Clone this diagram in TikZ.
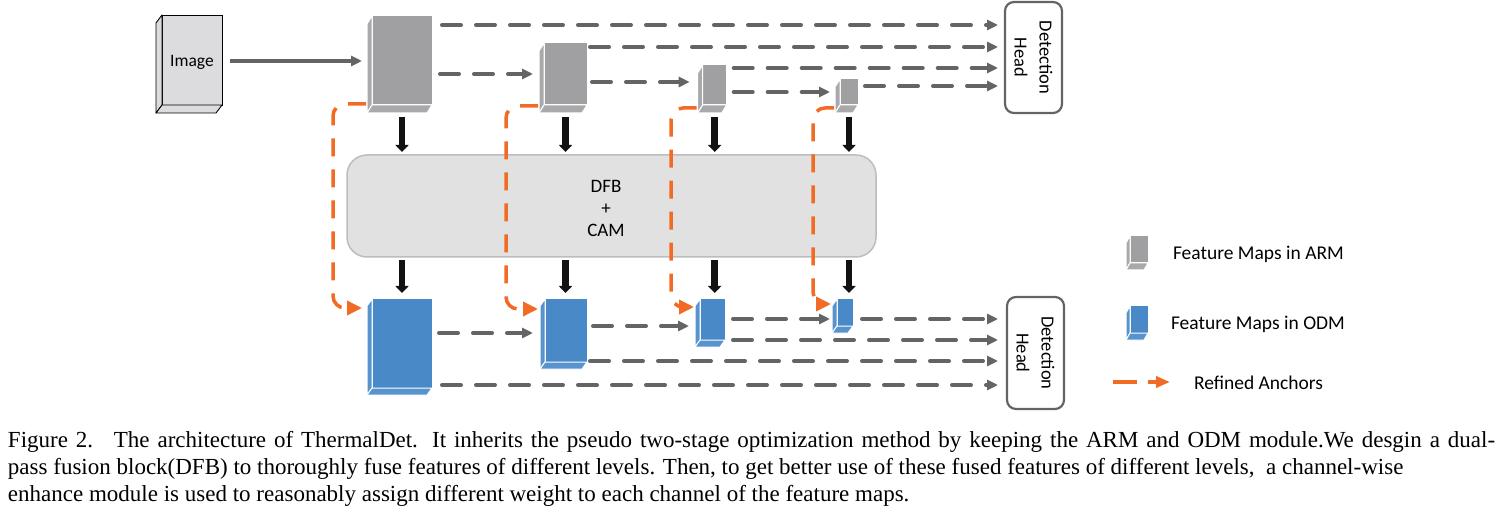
\documentclass[tikz,border=0pt]{standalone}
\usepackage{fontspec}
\setmainfont{Carlito}
\newfontfamily\capfont{Liberation Serif}
\usetikzlibrary{arrows.meta,calc}
\definecolor{armgray}{HTML}{A0A0A2}
\definecolor{armside}{HTML}{A9A9AB}
\definecolor{odmblue}{HTML}{4A89C8}
\definecolor{odmside}{HTML}{5893CE}
\definecolor{imgface}{HTML}{DCDCDE}
\definecolor{orangec}{HTML}{F26B24}
\definecolor{arrowgray}{HTML}{646464}
\definecolor{dfbfill}{HTML}{E1E1E1}
\definecolor{dfbedge}{HTML}{BDBDBD}
\newcommand{\mkcube}[4]{%
  \path[#2] (#1.north west) -- ++(#3,#4) -- ($(#1.south west)+(#3,#4)$) -- (#1.south west) -- cycle;
  \path[#2] (#1.south west) -- ($(#1.south west)+(#3,#4)$) -- ($(#1.south east)+(#3,#4)$) -- (#1.south east) -- cycle;
}
\begin{document}
\begin{tikzpicture}[x=1pt,y=-1pt,
  every node/.style={inner sep=0pt, outer sep=0pt},
  txt/.style={font=\fontsize{19}{22}\selectfont},
  imgf/.style={fill=imgface, draw=black, line width=0.9pt},
  imgs/.style={fill=imgface, draw=black, line width=0.9pt, line join=round},
  armf/.style={fill=armgray, draw=white, line width=1pt},
  arms/.style={fill=armside, draw=white, line width=1pt, line join=round},
  odmf/.style={fill=odmblue, draw=white, line width=1pt},
  odms/.style={fill=odmside, draw=white, line width=1pt, line join=round},
  dfbf/.style={fill=dfbfill, draw=dfbedge, line width=1.5pt, rounded corners=20pt},
  headf/.style={fill=white, draw=arrowgray, line width=2.2pt, rounded corners=9pt},
  headt/.style={rotate=-90, align=center, font=\fontsize{18.5}{25}\selectfont},
  garrow/.style={draw=arrowgray, line width=4pt, line cap=round, dash pattern=on 19pt off 15pt, -{Triangle[width=10pt,length=11pt]}},
  gsolid/.style={draw=arrowgray, line width=4pt, -{Triangle[width=10pt,length=11pt]}},
  barrow/.style={draw=black!93, line width=6.5pt, -{Triangle[width=13pt,length=7pt]}},
  oarrow/.style={draw=orangec, line width=3.5pt, dash pattern=on 18pt off 13pt, rounded corners=12pt, -{Triangle[width=14pt,length=15pt]}},
  legtxt/.style={anchor=west, font=\fontsize{19.5}{22}\selectfont},
  captxt/.style={anchor=base west, font=\capfont\fontsize{23}{27}\selectfont},
]
\useasboundingbox (0,0) rectangle (1503,510);

% y levels
\foreach \yy in {25,47,61,68,74,82,86,92,319,326,333,340,361,385} {\coordinate (y\yy) at (0,\yy);}

% Image
\node[imgf, minimum width=60pt, minimum height=90pt] (img) at (192,60) {};
\mkcube{img}{imgs}{-6}{8}
\node[font=\fontsize{17.5}{20}\selectfont] (imgt) at (192,62) {Image};

% DFB + CAM
\node[dfbf, minimum width=529pt, minimum height=102pt] (dfb) at (611.5,206) {};
\node[txt, align=center] (dfbt) at (606,208) {DFB\\+\\CAM};

% ARM feature maps
\node[armf, minimum width=60pt, minimum height=89pt] (a1) at (402,60.5) {};
\node[armf, minimum width=43pt, minimum height=62pt] (a2) at (565.5,74) {};
\node[armf, minimum width=24pt, minimum height=40pt] (a3) at (714.7,85) {};
\node[armf, minimum width=18pt, minimum height=26pt] (a4) at (849,92) {};
\foreach \n in {a1,a2,a3,a4} {\mkcube{\n}{arms}{-5}{8}}

% ODM feature maps
\node[odmf, minimum width=60pt, minimum height=89pt] (b1) at (402,343.5) {};
\node[odmf, minimum width=42pt, minimum height=63pt] (b2) at (566,330.5) {};
\node[odmf, minimum width=25pt, minimum height=41pt] (b3) at (712.5,319.5) {};
\node[odmf, minimum width=16pt, minimum height=27pt] (b4) at (845,312.5) {};
\foreach \n in {b1,b2,b3,b4} {\mkcube{\n}{odms}{-5}{7}}

% Detection heads
\node[headf, minimum width=57pt, minimum height=111pt] (h1) at (1033.5,57.5) {};
\node[headt] (h1t) at (h1.center) {Detection\\Head};
\node[headf, minimum width=57pt, minimum height=112pt] (h2) at (1035.5,353) {};
\node[headt] (h2t) at (h2.center) {Detection\\Head};

% top connectors
\draw[gsolid] ($(img.east |- y61)+(8,0)$) -- ($(a1.west |- y61)+(-10,0)$);
\draw[garrow] ($(a1.east |- y25)+(10,0)$) -- ($(h1.west |- y25)+(-7,0)$);
\draw[garrow] ($(a1.east |- y74)+(8,0)$) -- ($(a2.west |- y74)+(-11,0)$);
\draw[garrow] ($(a2.east |- y47)+(3,0)$) -- ($(h1.west |- y47)+(-7,0)$);
\draw[garrow] ($(a2.east |- y82)+(5,0)$) -- ($(a3.west |- y82)+(-13,0)$);
\draw[garrow] ($(a3.east |- y68)+(7,0)$) -- ($(h1.west |- y68)+(-7,0)$);
\draw[garrow] ($(a3.east |- y92)+(7,0)$) -- ($(a4.west |- y92)+(-10,0)$);
\draw[garrow] ($(a4.east |- y86)+(7,0)$) -- ($(h1.west |- y86)+(-7,0)$);

% bottom connectors
\draw[garrow] ($(b1.east |- y333)+(7,0)$) -- ($(b2.west |- y333)+(-12,0)$);
\draw[garrow] ($(b1.east |- y385)+(10,0)$) -- ($(h2.west |- y385)+(-9,0)$);
\draw[garrow] ($(b2.east |- y326)+(6,0)$) -- ($(b3.west |- y326)+(-11,0)$);
\draw[garrow] ($(b2.east |- y361)+(3,0)$) -- ($(h2.west |- y361)+(-9,0)$);
\draw[garrow] ($(b3.east |- y319)+(8,0)$) -- ($(b4.west |- y319)+(-7,0)$);
\draw[garrow] ($(b3.east |- y340)+(8,0)$) -- ($(h2.west |- y340)+(-9,0)$);
\draw[garrow] ($(b4.east |- y319)+(9,0)$) -- ($(h2.west |- y319)+(-9,0)$);

% black arrows into and out of DFB
\foreach \a/\b in {a1/b1,a2/b2,a3/b3,a4/b4} {
  \draw[barrow] ($(\a.south)+(0,12)$) -- ($(\a.south |- dfb.north)+(0,-3)$);
  \draw[barrow] ($(\a.south |- dfb.south)+(0,3)$) -- ($(\a.south |- \b.north)+(0,-6)$);
}

% refined anchors
\draw[oarrow] ($(a1.south west)+(-6,-1)$) -| ($(b1.north west)+(-39,9)$) -- ($(b1.north west)+(-10,9)$);
\draw[oarrow] ($(a2.south west)+(-6,1)$) -| ($(b2.north west)+(-39,10)$) -- ($(b2.north west)+(-7,10)$);
\draw[oarrow] ($(a3.south west)+(-6,3)$) -| ($(b3.north west)+(-29,8)$) -- ($(b3.north west)+(-6,8)$);
\draw[oarrow] ($(a4.south west)+(-6,3)$) -| ($(b4.north west)+(-24,5)$) -- ($(b4.north west)+(-6,5)$);

% legend
\node[armf, minimum width=18pt, minimum height=27pt] (lgA) at (1139,249.5) {};
\mkcube{lgA}{arms}{-4}{7}
\node[legtxt] (lgAt) at (1173,254) {Feature Maps in ARM};
\node[odmf, minimum width=18pt, minimum height=27pt] (lgO) at (1139,319.5) {};
\mkcube{lgO}{odms}{-4}{7}
\node[legtxt] (lgOt) at (1171,324) {Feature Maps in ODM};
\coordinate (lgR1) at (1113,382);
\coordinate (lgR2) at (1170,382);
\draw[draw=orangec, line width=3.5pt, dash pattern=on 24pt off 11pt, -{Triangle[width=11pt,length=14pt]}] (lgR1) -- (lgR2);
\node[legtxt] (lgRt) at (1194,383) {Refined Anchors};

% caption
\node[captxt] (cap1) at (8,447) {\makebox[1487pt][s]{Figure 2.\hspace{0.9em}The architecture of ThermalDet. It inherits the pseudo two-stage optimization method by keeping the ARM and ODM module.We desgin a dual-}};
\node[captxt] (cap2) at (8,474) {pass fusion block(DFB) to thoroughly fuse features of different levels. Then, to get better use of these fused features of different levels,\ \ a channel-wise};
\node[captxt] (cap3) at (8,501) {enhance module is used to reasonably assign different weight to each channel of the feature maps.};
\end{tikzpicture}
\end{document}
